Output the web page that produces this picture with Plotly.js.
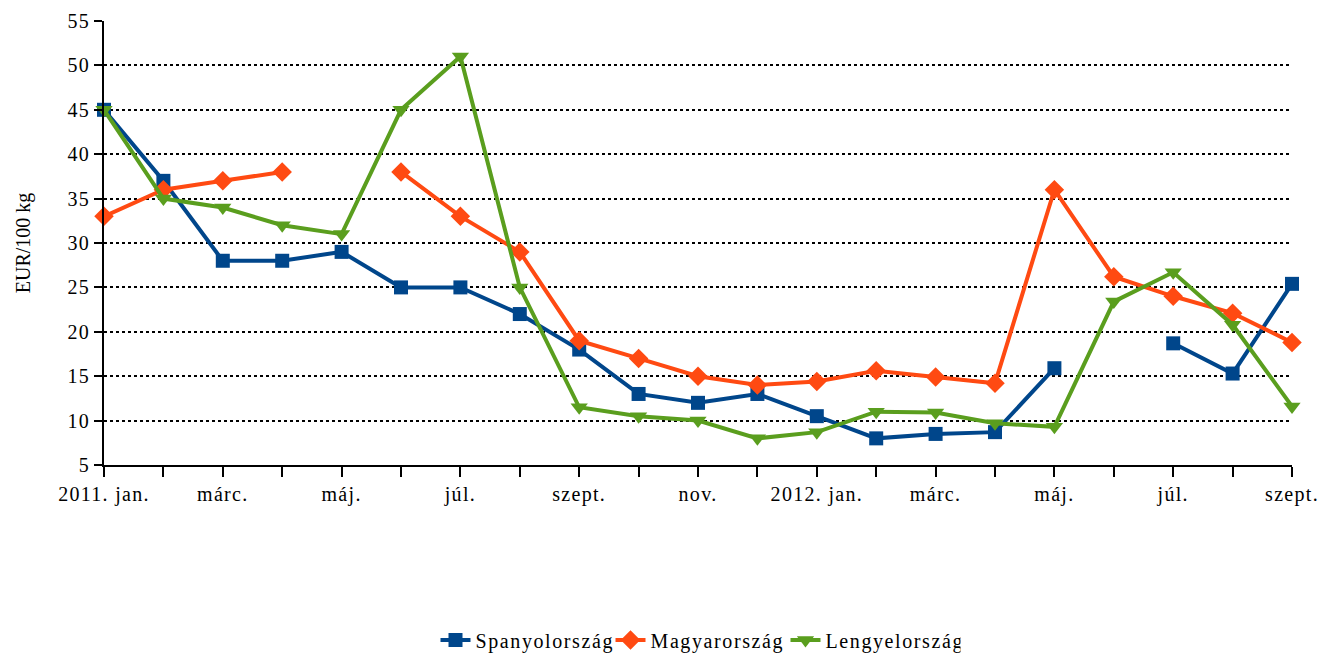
<!DOCTYPE html>
<html>
<head>
<meta charset="utf-8">
<script src="https://cdn.plot.ly/plotly-3.0.1.min.js"></script>
<style>
html,body{margin:0;padding:0;background:#fff;}
#chart{width:1322px;height:655px;}
#chart .xtick text, #chart .ytick text {letter-spacing:1.3px;}
#chart .legendtext {letter-spacing:1.6px;}
</style>
</head>
<body>
<div id="chart"></div>
<script>
const months = ["2011. jan.","febr.","márc.","ápr.","máj.","jún.","júl.","aug.","szept.","okt.","nov.","dec.",
                "2012. jan.","febr.","márc.","ápr.","máj.","jún.","júl.","aug.","szept."];
const tickLabels = ["2011. jan.","","márc.","","máj.","","júl.","","szept.","","nov.","",
                    "2012. jan.","","márc.","","máj.","","júl.","","szept."];
const spanyol = [45,37,28,28,29,25,25,22,18,13,12,13,10.5,8,8.5,8.7,15.9,null,18.7,15.3,25.4];
const magyar  = [33,36,37,38,null,38,33,29,19,17,15,14,14.4,15.6,14.9,14.2,36,26.2,24,22.1,18.8];
const lengyel = [45,35,34,32,31,45,51,25,11.5,10.5,10,8,8.7,11,10.9,9.7,9.3,23.4,26.7,20.8,11.6];
const seriesNames = ["Spanyolország","Magyarország","Lengyelország"];

const xIdx = months.map((_, i) => i);
const font = {family: "Liberation Serif", size: 20, color: "#000"};

const mk = (name, y, color, symbol, size) => ({
  type: "scatter", mode: "lines+markers", name: name, x: xIdx, y: y,
  connectgaps: false, cliponaxis: false,
  line: {color: color, width: 4},
  marker: {color: color, symbol: symbol, size: size}
});

const data = [
  mk(seriesNames[0], spanyol, "#00468B", "square", 14),
  mk(seriesNames[1], magyar, "#FF4A12", "diamond", 15),
  mk(seriesNames[2], lengyel, "#5A9E1E", "triangle-down", 15)
];

const layout = {
  width: 1322, height: 655,
  margin: {l: 104, r: 30, t: 21, b: 190, autoexpand: false},
  paper_bgcolor: "#fff", plot_bgcolor: "#fff",
  font: font,
  showlegend: true,
  legend: {orientation: "h", x: 0.5, xanchor: "center", y: -0.35, yanchor: "top",
           font: font, entrywidth: 130, entrywidthmode: "pixels", tracegroupgap: 0},
  xaxis: {
    range: [0, 20], tickvals: xIdx, ticktext: tickLabels, tickangle: 0,
    showgrid: false, zeroline: false, showline: true, linecolor: "#000", linewidth: 2,
    ticks: "outside", ticklen: 10, tickwidth: 2, tickcolor: "#000", tickfont: font
  },
  yaxis: {
    range: [5, 55], tickvals: [5,10,15,20,25,30,35,40,45,50,55],
    showgrid: true, gridcolor: "#000", gridwidth: 2, griddash: "dot",
    zeroline: false, showline: true, linecolor: "#000", linewidth: 2,
    ticks: "outside", ticklen: 8, tickwidth: 2, tickcolor: "#000", tickfont: font,
    title: {text: "EUR/100 kg", font: font, standoff: 34}
  }
};

Plotly.newPlot("chart", data, layout, {displayModeBar: false, staticPlot: true});
</script>
</body>
</html>
